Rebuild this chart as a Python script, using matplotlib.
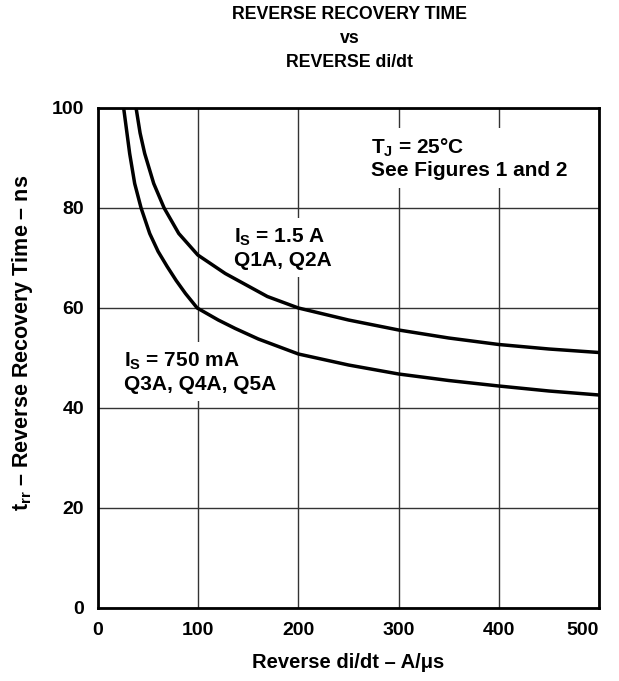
import matplotlib
matplotlib.use('Agg')
import matplotlib.pyplot as plt

plt.rcParams['font.family'] = ['Liberation Sans', 'DejaVu Sans']
plt.rcParams['font.weight'] = 'bold'
plt.rcParams['mathtext.fontset'] = 'custom'
plt.rcParams['mathtext.rm'] = 'Liberation Sans:bold'
plt.rcParams['mathtext.it'] = 'Liberation Sans:bold'
plt.rcParams['mathtext.bf'] = 'Liberation Sans:bold'

# reverse di/dt (A/us) vs trr (ns), Is = 750 mA
didt_750 = [25.6, 31.6, 36.6, 43, 51.6, 60, 69, 78, 87.3, 99, 120, 137, 160,
            200, 250, 300, 350, 400, 450, 500]
trr_750 = [100, 90.9, 84.9, 80, 74.9, 71.3, 68.3, 65.5, 62.9, 60, 57.6, 55.9, 53.8,
           50.8, 48.6, 46.8, 45.5, 44.4, 43.4, 42.6]

# Is = 1.5 A
didt_15 = [38, 42, 46.6, 55.6, 66, 80.6, 99.6, 127, 169, 200, 250, 300, 350,
           400, 450, 500]
trr_15 = [100, 95, 90.9, 84.9, 80, 74.9, 70.6, 66.9, 62.3, 60, 57.6, 55.6, 54,
          52.7, 51.8, 51.1]

xticks = [0, 100, 200, 300, 400, 500]
yticks = [0, 20, 40, 60, 80, 100]

fig = plt.figure(figsize=(6.19, 6.81), dpi=100)
ax = fig.add_axes([98 / 619, 1 - 608 / 681, 501 / 619, 500 / 681])

ax.plot(didt_750, trr_750, color='black', lw=2.5, zorder=4)
ax.plot(didt_15, trr_15, color='black', lw=2.5, zorder=4)

ax.set_xlim(0, 500)
ax.set_ylim(0, 100)
ax.set_xticks(xticks)
ax.set_yticks(yticks)
ax.grid(True, color='#333333', lw=1.0)
ax.set_axisbelow(True)
ax.tick_params(length=0, labelsize=14, pad=10)
for s in ax.spines.values():
    s.set_linewidth(2.0)
    s.set_zorder(5)
for lab in ax.get_xticklabels() + ax.get_yticklabels():
    lab.set_fontweight('bold')
# keep the last x label inside the frame
ax.get_xticklabels()[-1].set_horizontalalignment('right')

ax.set_xlabel('Reverse di/dt – A/μs', fontsize=14.5, fontweight='bold', labelpad=10)
ax.set_ylabel(r'$t_{rr}$ – Reverse Recovery Time – ns', fontsize=15.5,
              fontweight='bold', labelpad=12)
ax.yaxis.label.set_y(0.53)

# three-line title
title_lines = ['REVERSE RECOVERY TIME', 'vs', 'REVERSE di/dt']
for line, yb in zip(title_lines, [19, 43, 67]):
    fig.text(349.5 / 619, 1 - yb / 681, line, ha='center', va='baseline',
             fontsize=12.8, fontweight='bold')

box = dict(boxstyle='square,pad=0.35', facecolor='white', edgecolor='none')
ax.text(272, 86.3, r'$T_J$ = 25°C' + '\nSee Figures 1 and 2', fontsize=15,
        fontweight='bold', va='baseline', ha='left', linespacing=1.18,
        bbox=box, zorder=3)
ax.text(136, 68.5, r'$I_S$ = 1.5 A' + '\nQ1A, Q2A', fontsize=15,
        fontweight='bold', va='baseline', ha='left', linespacing=1.18,
        bbox=box, zorder=3)
ax.text(25.5, 43.7, r'$I_S$ = 750 mA' + '\nQ3A, Q4A, Q5A', fontsize=15,
        fontweight='bold', va='baseline', ha='left', linespacing=1.18,
        bbox=box, zorder=3)

fig.savefig('out.png', dpi=100)
